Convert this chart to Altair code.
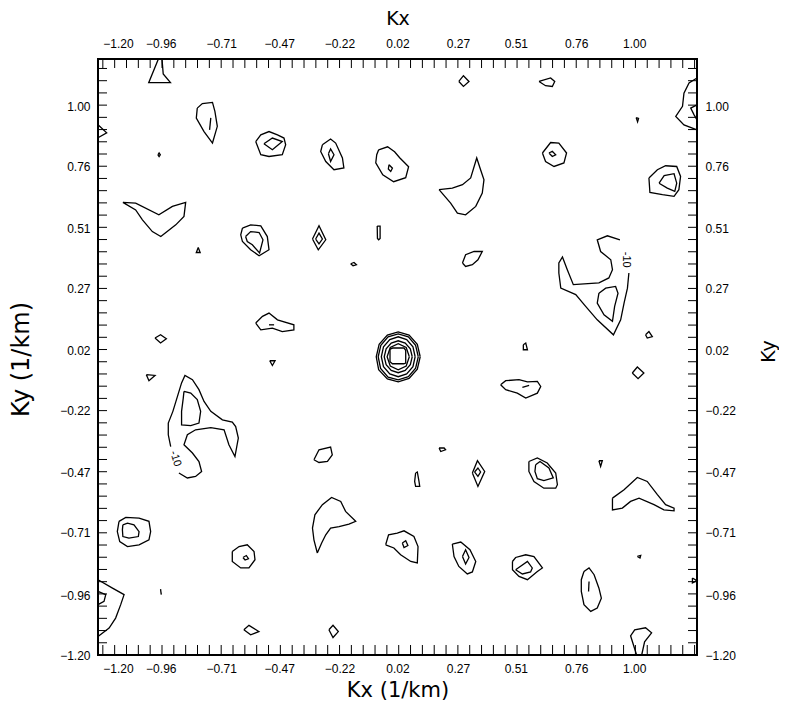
import altair as alt
import pandas as pd

# ---------------- axes ----------------
X_DOMAIN = [-1.22, 1.26]
Y_DOMAIN = [-1.20, 1.19]
tick_labels = [-1.20, -0.96, -0.71, -0.47, -0.22, 0.02, 0.27, 0.51, 0.76, 1.00]
minor_x = [round(-1.20 + 0.049 * k, 3) for k in range(51)]
minor_y = [round(-1.20 + 0.049 * k, 3) for k in range(49)]

# ---------------- contour lines (Kx, Ky) ----------------
ctr_a = [(-0.97, 1.19), (-1.01, 1.095), (-0.92, 1.095), (-0.95, 1.13), (-0.955, 1.19)]
ctr_b = [(-0.809, 0.993), (-0.788, 1.011), (-0.746, 1.016), (-0.736, 0.980), (-0.726, 0.920), (-0.746, 0.853), (-0.781, 0.899), (-0.813, 0.953)]
ctr_b_in = [(-0.753, 0.954), (-0.758, 0.906)]
ctr_c = [(-0.567, 0.859), (-0.546, 0.886), (-0.512, 0.899), (-0.477, 0.886), (-0.450, 0.873), (-0.443, 0.846), (-0.457, 0.806), (-0.512, 0.799), (-0.546, 0.806)]
ctr_c_in = [(-0.533, 0.850), (-0.498, 0.873), (-0.457, 0.859), (-0.498, 0.826)]
ctr_d = [(-0.291, 0.846), (-0.257, 0.869), (-0.236, 0.853), (-0.208, 0.793), (-0.202, 0.753), (-0.243, 0.746), (-0.277, 0.779), (-0.298, 0.819)]
ctr_d_in = [(-0.266, 0.810), (-0.257, 0.829), (-0.243, 0.806), (-0.257, 0.779)]
ctr_e = [(-0.058, 0.826), (-0.021, 0.838), (0.008, 0.818), (0.029, 0.794), (0.066, 0.758), (0.054, 0.714), (0.004, 0.698), (-0.041, 0.726), (-0.070, 0.774), (-0.066, 0.806)]
ctr_e_in = [(-0.015, 0.766), (-0.001, 0.752), (-0.008, 0.739), (-0.018, 0.749)]
ctr_f = [(-0.972, 0.806), (-0.967, 0.813), (-0.962, 0.806), (-0.967, 0.799)]
ctr_g = [(-1.117, 0.615), (-1.064, 0.612), (-0.968, 0.565), (-0.912, 0.599), (-0.857, 0.615), (-0.864, 0.559), (-0.898, 0.525), (-0.960, 0.478), (-0.995, 0.498), (-1.036, 0.545), (-1.064, 0.585)]
ctr_h = [(-0.805, 0.434), (-0.813, 0.414), (-0.797, 0.414)]
ctr_i = [(-0.622, 0.512), (-0.588, 0.525), (-0.546, 0.521), (-0.519, 0.478), (-0.512, 0.425), (-0.553, 0.401), (-0.588, 0.425), (-0.622, 0.458), (-0.629, 0.485)]
ctr_i_in = [(-0.609, 0.478), (-0.588, 0.498), (-0.553, 0.494), (-0.537, 0.465), (-0.551, 0.412), (-0.581, 0.445), (-0.602, 0.458)]
ctr_j = [(-0.332, 0.468), (-0.305, 0.521), (-0.277, 0.465), (-0.308, 0.425)]
ctr_j_in = [(-0.319, 0.468), (-0.305, 0.492), (-0.291, 0.468), (-0.305, 0.449)]
ctr_k = [(-0.064, 0.520), (-0.052, 0.520), (-0.052, 0.470), (-0.058, 0.465), (-0.063, 0.470)]
ctr_l = [(-0.174, 0.369), (-0.160, 0.374), (-0.150, 0.365), (-0.164, 0.361)]
ctr_m = [(-0.567, 0.131), (-0.539, 0.158), (-0.512, 0.171), (-0.477, 0.144), (-0.409, 0.124), (-0.409, 0.104), (-0.457, 0.097), (-0.498, 0.111), (-0.546, 0.104)]
ctr_m_in = [(-0.512, 0.124), (-0.491, 0.124)]
ctr_n = [(-0.984, 0.071), (-0.961, 0.084), (-0.937, 0.068), (-0.961, 0.051)]
ctr_o = [(-1.22, 0.926), (-1.184, 0.894), (-1.22, 0.874)]

ctr_p = [(0.274, 1.100), (0.293, 1.123), (0.316, 1.100), (0.293, 1.080)]
ctr_q = [(0.606, 1.100), (0.654, 1.114), (0.671, 1.100), (0.661, 1.080), (0.633, 1.083)]
ctr_r = [(1.26, 1.114), (1.227, 1.094), (1.206, 1.053), (1.200, 1.000), (1.172, 0.960), (1.206, 0.926), (1.26, 0.906)]
ctr_r_in = [(1.26, 1.006), (1.234, 0.993), (1.248, 0.966), (1.26, 0.946)]
ctr_s = [(1.008, 0.955), (1.018, 0.952), (1.014, 0.938)]
ctr_t = [(0.620, 0.813), (0.654, 0.855), (0.688, 0.853), (0.720, 0.813), (0.709, 0.773), (0.668, 0.759), (0.633, 0.779)]
ctr_t_in = [(0.647, 0.813), (0.661, 0.820), (0.675, 0.806), (0.661, 0.799)]
ctr_u = [(0.192, 0.666), (0.247, 0.672), (0.289, 0.686), (0.323, 0.713), (0.348, 0.793), (0.364, 0.746), (0.378, 0.706), (0.371, 0.652), (0.344, 0.599), (0.302, 0.565), (0.268, 0.572), (0.240, 0.612)]
ctr_v = [(1.061, 0.713), (1.096, 0.746), (1.130, 0.762), (1.176, 0.759), (1.192, 0.719), (1.185, 0.666), (1.165, 0.639), (1.117, 0.646), (1.065, 0.655)]
ctr_v_in = [(1.103, 0.692), (1.124, 0.722), (1.165, 0.730), (1.176, 0.692), (1.168, 0.659), (1.137, 0.672)]
ctr_w = [(0.289, 0.372), (0.302, 0.405), (0.337, 0.418), (0.371, 0.418), (0.353, 0.385), (0.330, 0.365), (0.302, 0.358)]
ctr_x = [(0.978, 0.332), (0.972, 0.271), (0.958, 0.211), (0.944, 0.144), (0.914, 0.084), (0.847, 0.144), (0.799, 0.198), (0.758, 0.245), (0.696, 0.271), (0.688, 0.332), (0.688, 0.372), (0.703, 0.396), (0.723, 0.345), (0.748, 0.285), (0.854, 0.292), (0.895, 0.312), (0.910, 0.345), (0.903, 0.385), (0.861, 0.418), (0.847, 0.465), (0.889, 0.481), (0.941, 0.465)]
ctr_x_in = [(0.854, 0.251), (0.882, 0.271), (0.923, 0.278), (0.933, 0.251), (0.919, 0.198), (0.910, 0.138), (0.875, 0.164), (0.847, 0.211)]
ctr_y = [(1.047, 0.084), (1.061, 0.097), (1.075, 0.077), (1.054, 0.071)]

ctr_e2 = [(-0.509, -0.020), (-0.487, -0.020), (-0.498, -0.039)]
ctr_e3 = [(-1.020, -0.076), (-0.984, -0.079), (-1.009, -0.100)]
ctr_e4 = [(-0.919, -0.364), (-0.929, -0.317), (-0.929, -0.270), (-0.910, -0.223), (-0.891, -0.163), (-0.874, -0.109), (-0.860, -0.079), (-0.829, -0.096), (-0.802, -0.136), (-0.781, -0.183), (-0.753, -0.223), (-0.705, -0.257), (-0.664, -0.266), (-0.650, -0.284), (-0.639, -0.330), (-0.653, -0.404), (-0.678, -0.357), (-0.698, -0.297), (-0.753, -0.288), (-0.816, -0.297), (-0.850, -0.317), (-0.864, -0.357), (-0.829, -0.390), (-0.802, -0.424), (-0.791, -0.464), (-0.816, -0.484), (-0.850, -0.490), (-0.885, -0.470)]
ctr_e4_in = [(-0.864, -0.143), (-0.836, -0.150), (-0.809, -0.176), (-0.795, -0.223), (-0.802, -0.270), (-0.836, -0.280), (-0.874, -0.277), (-0.874, -0.223), (-0.867, -0.170)]
ctr_e5 = [(-0.326, -0.417), (-0.305, -0.377), (-0.257, -0.366), (-0.250, -0.397), (-0.270, -0.424), (-0.305, -0.428)]
ctr_e6 = [(-0.312, -0.791), (-0.326, -0.738), (-0.332, -0.691), (-0.322, -0.638), (-0.291, -0.597), (-0.253, -0.568), (-0.215, -0.584), (-0.195, -0.624), (-0.153, -0.664), (-0.181, -0.675), (-0.222, -0.685), (-0.257, -0.691), (-0.277, -0.718), (-0.294, -0.751)]
ctr_e7 = [(-1.133, -0.664), (-1.105, -0.648), (-1.050, -0.651), (-1.009, -0.664), (-1.002, -0.705), (-1.009, -0.738), (-1.050, -0.758), (-1.098, -0.765), (-1.130, -0.745), (-1.140, -0.705)]
ctr_e7_in = [(-1.117, -0.678), (-1.098, -0.671), (-1.071, -0.678), (-1.050, -0.705), (-1.053, -0.725), (-1.092, -0.731), (-1.117, -0.725), (-1.119, -0.698)]
ctr_e8 = [(-0.664, -0.785), (-0.636, -0.765), (-0.602, -0.758), (-0.574, -0.785), (-0.570, -0.818), (-0.595, -0.851), (-0.629, -0.851), (-0.664, -0.825)]
ctr_e8_in = [(-0.620, -0.809), (-0.606, -0.801), (-0.597, -0.814), (-0.611, -0.819)]
ctr_e9 = [(-1.22, -0.898), (-1.160, -0.932), (-1.112, -0.958), (-1.126, -0.998), (-1.147, -1.052), (-1.174, -1.092), (-1.22, -1.126)]
ctr_e9_in = [(-1.22, -0.945), (-1.188, -0.958), (-1.195, -0.985), (-1.22, -0.998)]
ctr_e10 = [(-0.961, -0.936), (-0.958, -0.958)]
ctr_e11 = [(-0.616, -1.099), (-0.595, -1.081), (-0.554, -1.106), (-0.588, -1.119)]
ctr_e12 = [(-0.264, -1.099), (-0.247, -1.081), (-0.225, -1.106), (-0.247, -1.130)]

ctr_f1 = [(0.541, 0.044), (0.551, 0.051), (0.558, 0.024), (0.541, 0.024)]
ctr_f2 = [(0.992, -0.069), (1.013, -0.045), (1.040, -0.069), (1.016, -0.092)]
ctr_f3 = [(0.447, -0.116), (0.468, -0.100), (0.523, -0.096), (0.558, -0.105), (0.599, -0.103), (0.613, -0.123), (0.599, -0.150), (0.551, -0.170), (0.516, -0.150), (0.468, -0.136)]
ctr_f3_in = [(0.537, -0.127), (0.565, -0.119)]
ctr_f5 = [(0.192, -0.370), (0.213, -0.370), (0.219, -0.377), (0.199, -0.384)]
ctr_f6 = [(0.095, -0.470), (0.102, -0.466), (0.109, -0.504), (0.112, -0.524), (0.095, -0.524), (0.091, -0.504)]
ctr_f7 = [(0.330, -0.470), (0.351, -0.421), (0.381, -0.464), (0.353, -0.524)]
ctr_f7_in = [(0.339, -0.466), (0.353, -0.450), (0.364, -0.466), (0.353, -0.484)]
ctr_f8 = [(0.564, -0.424), (0.599, -0.410), (0.640, -0.430), (0.675, -0.470), (0.682, -0.517), (0.675, -0.531), (0.626, -0.531), (0.585, -0.504), (0.564, -0.464)]
ctr_f8_in = [(0.592, -0.437), (0.610, -0.424), (0.647, -0.450), (0.665, -0.490), (0.626, -0.501), (0.599, -0.493), (0.589, -0.464)]
ctr_f9 = [(0.854, -0.421), (0.868, -0.421), (0.861, -0.444)]
ctr_f10 = [(0.910, -0.571), (0.958, -0.537), (1.013, -0.488), (1.054, -0.504), (1.096, -0.557), (1.130, -0.597), (1.165, -0.611), (1.165, -0.622), (1.123, -0.618), (1.082, -0.597), (1.020, -0.571), (0.985, -0.584), (0.951, -0.611), (0.910, -0.618)]
ctr_f11 = [(-0.029, -0.758), (-0.017, -0.718), (0.019, -0.711), (0.047, -0.702), (0.088, -0.725), (0.105, -0.765), (0.102, -0.831), (0.075, -0.825), (0.033, -0.798), (0.005, -0.771)]
ctr_f11_in = [(0.040, -0.751), (0.054, -0.742), (0.063, -0.761), (0.047, -0.769)]
ctr_f12 = [(0.247, -0.755), (0.282, -0.747), (0.320, -0.778), (0.344, -0.825), (0.330, -0.867), (0.309, -0.875), (0.274, -0.845), (0.254, -0.805)]
ctr_f12_in = [(0.289, -0.805), (0.302, -0.778), (0.316, -0.809), (0.302, -0.835)]
ctr_f13 = [(0.496, -0.825), (0.509, -0.809), (0.551, -0.798), (0.585, -0.805), (0.620, -0.851), (0.599, -0.865), (0.558, -0.898), (0.523, -0.885), (0.496, -0.858)]
ctr_f13_in = [(0.509, -0.858), (0.558, -0.825), (0.578, -0.851), (0.571, -0.867), (0.537, -0.875)]
ctr_f14 = [(0.792, -0.865), (0.813, -0.851), (0.834, -0.878), (0.854, -0.932), (0.864, -0.972), (0.847, -1.012), (0.820, -1.025), (0.792, -0.998), (0.781, -0.945), (0.781, -0.898)]
ctr_f14_in = [(0.813, -0.905), (0.811, -0.945)]
ctr_f15 = [(1.013, -0.805), (1.027, -0.801), (1.024, -0.811)]
ctr_f16 = [(1.010, -1.20), (0.985, -1.123), (1.002, -1.099), (1.047, -1.091), (1.072, -1.111), (1.043, -1.147), (1.031, -1.20)]
ctr_f17 = [(1.241, -0.891), (1.26, -0.902), (1.241, -0.911)]

# central peak: nested rings
ring_1 = [(0.114, -0.004), (0.102, 0.046), (0.068, 0.083), (0.023, 0.096), (-0.022, 0.083), (-0.056, 0.046), (-0.068, -0.004), (-0.058, -0.056), (-0.022, -0.093), (0.023, -0.105), (0.068, -0.091), (0.102, -0.054)]
ring_2 = [(0.106, -0.004), (0.095, 0.042), (0.065, 0.076), (0.023, 0.088), (-0.019, 0.076), (-0.049, 0.042), (-0.060, -0.004), (-0.050, -0.051), (-0.019, -0.086), (0.023, -0.097), (0.065, -0.084), (0.095, -0.050)]
ring_3 = [(0.093, -0.004), (0.084, 0.036), (0.058, 0.065), (0.023, 0.076), (-0.012, 0.065), (-0.038, 0.036), (-0.047, -0.004), (-0.038, -0.044), (-0.012, -0.073), (0.023, -0.084), (0.058, -0.073), (0.084, -0.044)]
ring_4 = [(0.081, -0.004), (0.073, 0.028), (0.052, 0.051), (0.023, 0.060), (-0.006, 0.051), (-0.027, 0.028), (-0.035, -0.004), (-0.027, -0.036), (-0.006, -0.059), (0.023, -0.068), (0.052, -0.059), (0.073, -0.036)]
ring_5 = [(0.069, -0.004), (0.056, 0.033), (0.023, 0.048), (-0.010, 0.033), (-0.023, -0.004), (-0.010, -0.041), (0.023, -0.056), (0.056, -0.041)]
ring_6 = [(-0.011, 0.027), (0.000, 0.031), (0.047, 0.031), (0.054, 0.022), (0.054, -0.029), (0.046, -0.032), (-0.001, -0.032), (-0.011, -0.024)]

# (name, points, closed)
contours = [
    ("a", ctr_a, False), ("b", ctr_b, True), ("b_in", ctr_b_in, False), ("c", ctr_c, True), ("c_in", ctr_c_in, True),
    ("d", ctr_d, True), ("d_in", ctr_d_in, True), ("e", ctr_e, True), ("e_in", ctr_e_in, True), ("f", ctr_f, True),
    ("g", ctr_g, True), ("h", ctr_h, True), ("i", ctr_i, True), ("i_in", ctr_i_in, True), ("j", ctr_j, True),
    ("j_in", ctr_j_in, True), ("k", ctr_k, True), ("l", ctr_l, True), ("m", ctr_m, True), ("m_in", ctr_m_in, False),
    ("n", ctr_n, True), ("o", ctr_o, False),
    ("p", ctr_p, True), ("q", ctr_q, True), ("r", ctr_r, False), ("r_in", ctr_r_in, False), ("s", ctr_s, True),
    ("t", ctr_t, True), ("t_in", ctr_t_in, True), ("u", ctr_u, True), ("v", ctr_v, True), ("v_in", ctr_v_in, True),
    ("w", ctr_w, True), ("x", ctr_x, False), ("x_in", ctr_x_in, True), ("y", ctr_y, True),
    ("e2", ctr_e2, True), ("e3", ctr_e3, True), ("e4", ctr_e4, False), ("e4_in", ctr_e4_in, True), ("e5", ctr_e5, True),
    ("e6", ctr_e6, True), ("e7", ctr_e7, True), ("e7_in", ctr_e7_in, True), ("e8", ctr_e8, True), ("e8_in", ctr_e8_in, True),
    ("e9", ctr_e9, False), ("e9_in", ctr_e9_in, False), ("e10", ctr_e10, False), ("e11", ctr_e11, True), ("e12", ctr_e12, True),
    ("f1", ctr_f1, True), ("f2", ctr_f2, True), ("f3", ctr_f3, True), ("f3_in", ctr_f3_in, False), ("f5", ctr_f5, True),
    ("f6", ctr_f6, True), ("f7", ctr_f7, True), ("f7_in", ctr_f7_in, True), ("f8", ctr_f8, True), ("f8_in", ctr_f8_in, True),
    ("f9", ctr_f9, True), ("f10", ctr_f10, True), ("f11", ctr_f11, True), ("f11_in", ctr_f11_in, True), ("f12", ctr_f12, True),
    ("f12_in", ctr_f12_in, True), ("f13", ctr_f13, True), ("f13_in", ctr_f13_in, True), ("f14", ctr_f14, True),
    ("f14_in", ctr_f14_in, False), ("f15", ctr_f15, True), ("f16", ctr_f16, False), ("f17", ctr_f17, True),
    ("ring1", ring_1, True), ("ring2", ring_2, True), ("ring3", ring_3, True), ("ring4", ring_4, True),
    ("ring5", ring_5, True), ("ring6", ring_6, True),
]

# contour labels
label_text = ["-10", "-10"]
label_x = [-0.900, 0.965]
label_y = [-0.413, 0.385]
label_angle = [73, 90]

# ---------------- build tables ----------------
rows = []
for name, pts, closed in contours:
    seq = list(pts) + ([pts[0]] if closed else [])
    for i, (x, y) in enumerate(seq):
        rows.append({"id": name, "ord": i, "kx": x, "ky": y})
df_lines = pd.DataFrame(rows)
df_mx = pd.DataFrame({"v": minor_x})
df_my = pd.DataFrame({"v": minor_y})
df_lab = pd.DataFrame({"t": label_text, "kx": label_x, "ky": label_y, "a": label_angle})

W, H = 599, 596
FONT = "Liberation Sans"
TFONT = "DejaVu Sans"
xs = alt.Scale(domain=X_DOMAIN, nice=False, zero=False)
ys = alt.Scale(domain=Y_DOMAIN, nice=False, zero=False)

common = dict(values=tick_labels, format=".2f", ticks=False, domain=False, grid=False,
              labelFont=FONT, labelFontSize=12, labelColor="black",
              titleFont=TFONT, titleFontWeight="normal", titleColor="black",
              labelFlush=False, labelOverlap=False)
x_align = alt.condition("datum.value < -1.1", alt.value("left"), alt.value("center"))

ax_bottom = alt.Axis(orient="bottom", labelPadding=8, title="Kx  (1/km)", titleFontSize=21,
                     titleX=W / 2, titleY=35, titleBaseline="middle", titleAlign="center",
                     labelAlign=x_align, **common)
ax_top = alt.Axis(orient="top", labelPadding=9, title="Kx", titleFontSize=19,
                  titleX=W / 2, titleY=-41, titleBaseline="middle", titleAlign="center",
                  labelAlign=x_align, **common)
ax_left = alt.Axis(orient="left", labelPadding=8, title="Ky  (1/km)", titleFontSize=24,
                   titleX=-77, titleY=300, titleAngle=270, titleBaseline="middle", titleAlign="center", **common)
ax_right = alt.Axis(orient="right", labelPadding=8, title="Ky", titleFontSize=19,
                    titleX=71, titleY=292, titleAngle=270, titleBaseline="middle", titleAlign="center", **common)

lines = alt.Chart(df_lines).mark_line(color="black", strokeWidth=1.3).encode(
    x=alt.X("kx:Q", scale=xs, axis=ax_bottom),
    y=alt.Y("ky:Q", scale=ys, axis=ax_left),
    detail="id:N",
    order="ord:Q",
)

labels = alt.Chart(df_lab).mark_text(font=FONT, fontSize=11, color="black").encode(
    x=alt.X("kx:Q", scale=xs, axis=None),
    y=alt.Y("ky:Q", scale=ys, axis=None),
    text="t:N",
    angle=alt.Angle("a:Q", scale=None),
)

tick_top = alt.Chart(df_mx).mark_rule(color="black", strokeWidth=1).encode(
    x=alt.X("v:Q", scale=xs, axis=ax_top), y=alt.value(0), y2=alt.value(9))
tick_bottom = alt.Chart(df_mx).mark_rule(color="black", strokeWidth=1).encode(
    x=alt.X("v:Q", scale=xs, axis=None), y=alt.value(H), y2=alt.value(H - 10))
tick_left = alt.Chart(df_my).mark_rule(color="black", strokeWidth=1).encode(
    y=alt.Y("v:Q", scale=ys, axis=None), x=alt.value(0), x2=alt.value(9))
tick_right = alt.Chart(df_my).mark_rule(color="black", strokeWidth=1).encode(
    y=alt.Y("v:Q", scale=ys, axis=ax_right), x=alt.value(W), x2=alt.value(W - 9))

chart = alt.layer(lines, labels, tick_top, tick_bottom, tick_left, tick_right).resolve_axis(
    x="independent", y="independent"
).properties(
    width=W, height=H,
    autosize=alt.AutoSizeParams(type="none"),
    padding={"left": 90, "top": 51, "right": 82, "bottom": 45},
    background="white",
).configure_view(stroke="black", strokeWidth=2)

chart.save("out.html", embed_options={"renderer": "svg", "actions": False})
